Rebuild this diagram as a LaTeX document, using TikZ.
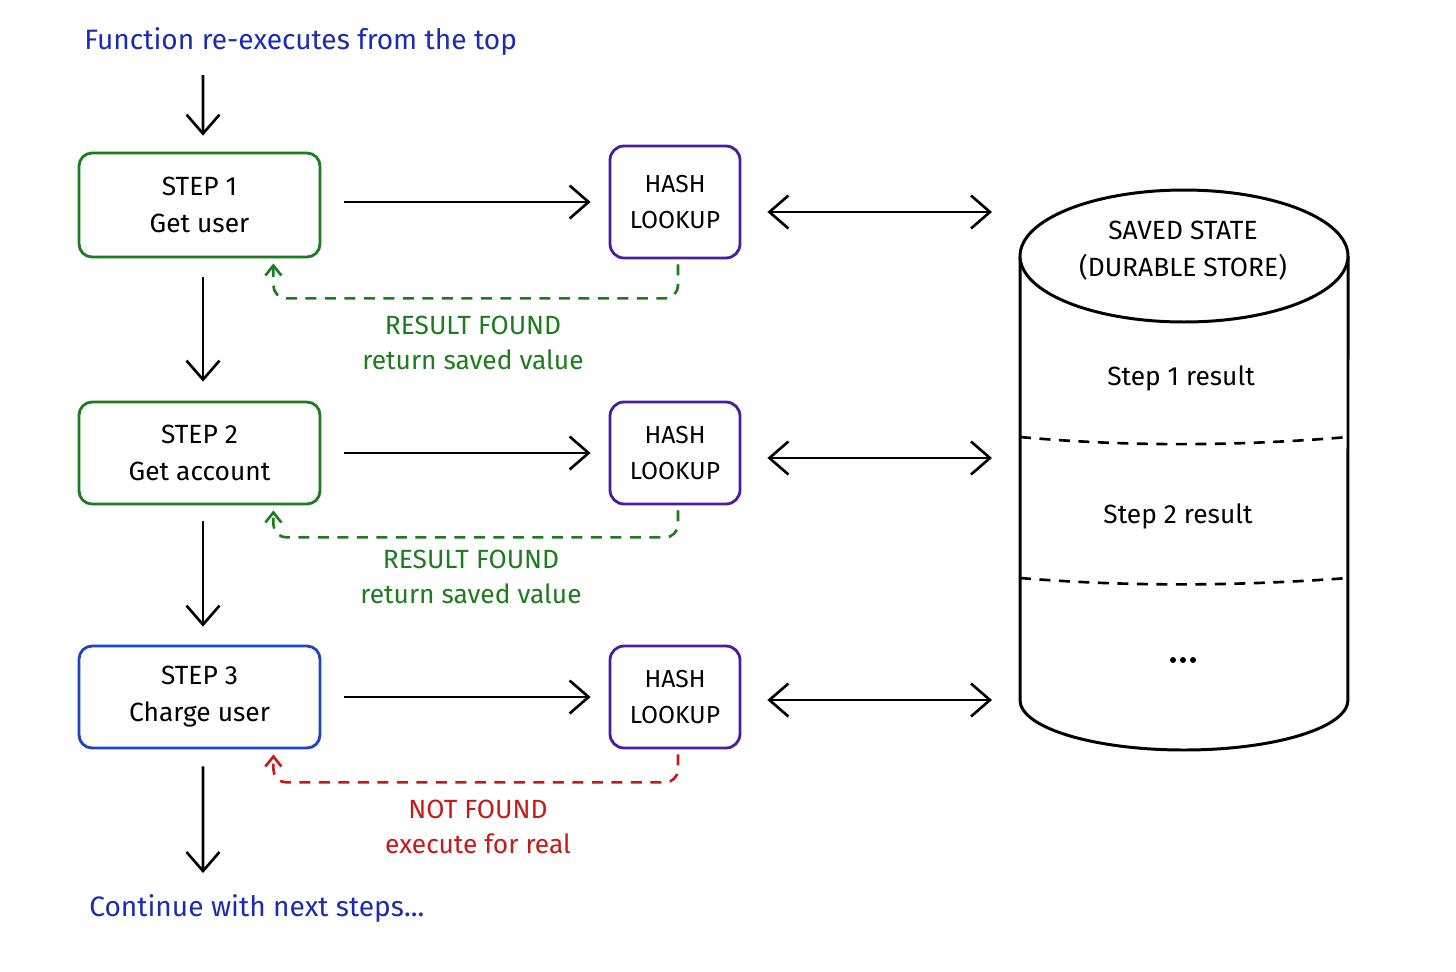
\documentclass[tikz,border=0pt]{standalone}
\usepackage{fontspec}
\setmainfont{Fira Sans}
\usetikzlibrary{arrows.meta}
\definecolor{cgreen}{HTML}{1E7B1E}
\definecolor{cpurple}{HTML}{4A1D9E}
\definecolor{cblue}{HTML}{1C44C4}
\definecolor{ctblue}{HTML}{1A2DB0}
\definecolor{cred}{HTML}{C41A1A}
\begin{document}
\begin{tikzpicture}[x=0.02cm,y=-0.02cm,line width=1.5pt,
  font=\fontsize{15}{21}\selectfont,
  stepbox/.style={draw,rounded corners=0.26cm,minimum width=4.82cm,minimum height=2.08cm,align=center,line width=1.6pt},
  hashbox/.style={draw=cpurple,rounded corners=0.28cm,minimum width=2.6cm,minimum height=2.04cm,align=center,line width=1.6pt,font=\fontsize{14}{20}\selectfont},
  arr/.style={-{Straight Barb[length=0.38cm,width=0.66cm]}},
  darr/.style={{Straight Barb[length=0.38cm,width=0.66cm]}-{Straight Barb[length=0.38cm,width=0.66cm]}},
  backarr/.style={line width=1.5pt,dash pattern=on 0.22cm off 0.17cm,rounded corners=0.26cm,-{Straight Barb[length=0.2cm,width=0.32cm]}},
  lbl/.style={align=center,font=\fontsize{15}{19.5}\selectfont},
  cyltext/.style={align=center}]
\fill[white] (0,0) rectangle (1456,971);
\useasboundingbox (0,0) rectangle (1456,971);

% top / bottom texts
\node[anchor=west,text=ctblue,inner sep=0pt,font=\fontsize{16}{20}\selectfont] (top) at (83,42) {Function re-executes from the top};
\node[anchor=west,text=ctblue,inner sep=0pt,font=\fontsize{16}{20}\selectfont] (bot) at (88,909) {Continue with next steps...};
\coordinate (a0) at (203,75);
\coordinate (a4) at (203,873);

% step boxes
\node[stepbox,draw=cgreen,minimum height=2.08cm] (s1) at (199.5,205) {STEP 1\\Get user};
\node[stepbox,draw=cgreen,minimum height=2.04cm] (s2) at (199.5,453) {STEP 2\\Get account};
\node[stepbox,draw=cblue,minimum height=2.04cm] (s3) at (199.5,697) {STEP 3\\Charge user};

% hash boxes
\node[hashbox,minimum height=2.24cm] (h1) at (675,202) {HASH\\LOOKUP};
\node[hashbox] (h2) at (675,453) {HASH\\LOOKUP};
\node[hashbox] (h3) at (675,697) {HASH\\LOOKUP};

% cylinder
\coordinate (db1) at (1020,212);
\coordinate (db2) at (1020,458);
\coordinate (db3) at (1020,700);
\draw[line width=1.7pt,fill=white] (1020,256) -- (1020,700) arc[start angle=180,end angle=360,x radius=3.28cm,y radius=1.0cm] -- (1348,256);
\draw[line width=1.7pt,fill=white] (1184,256) ellipse[x radius=3.28cm,y radius=1.32cm];
\draw[line width=1.5pt,dash pattern=on 0.22cm off 0.17cm] (1020,437) .. controls (1130,447) and (1240,446) .. (1348,437);
\draw[line width=1.5pt,dash pattern=on 0.22cm off 0.17cm] (1020,578) .. controls (1130,587) and (1240,586) .. (1348,578);
\node[cyltext] (dbt) at (1183,251) {SAVED STATE\\(DURABLE STORE)};
\node (r1) at (1181,378) {Step 1 result};
\node (r2) at (1178,516) {Step 2 result};
\node (r3) at (1183,660) {};
\fill (r3) circle (0.06cm) ([xshift=-0.2cm]r3.center) circle (0.06cm) ([xshift=0.2cm]r3.center) circle (0.06cm);

% vertical flow
\draw[arr] (a0) -- ([xshift=0.07cm,yshift=0.32cm]s1.north);
\draw[arr] ([xshift=0.07cm,yshift=-0.38cm]s1.south) -- ([xshift=0.07cm,yshift=0.38cm]s2.north);
\draw[arr] ([xshift=0.07cm,yshift=-0.32cm]s2.south) -- ([xshift=0.07cm,yshift=0.36cm]s3.north);
\draw[arr] ([xshift=0.07cm,yshift=-0.34cm]s3.south) -- (a4);

% step -> hash
\draw[arr,shorten <=0.46cm,shorten >=0.36cm] (s1.east |- h1) -- (h1.west);
\draw[arr,shorten <=0.46cm,shorten >=0.36cm] (s2.east |- h2) -- (h2.west);
\draw[arr,shorten <=0.46cm,shorten >=0.36cm] (s3.east |- h3) -- (h3.west);

% hash <-> store
\draw[darr,shorten <=0.52cm,shorten >=0.56cm] (h1.east |- db1) -- (db1);
\draw[darr,shorten <=0.52cm,shorten >=0.56cm] (h2.east |- db2) -- (db2);
\draw[darr,shorten <=0.52cm,shorten >=0.56cm] (h3.east |- db3) -- (db3);

% return paths
\draw[backarr,draw=cgreen] ([xshift=0.06cm,yshift=-0.1cm]h1.south) -- ++(0,34) -| ([xshift=-0.96cm,yshift=-0.1cm]s1.south east);
\draw[backarr,draw=cgreen] ([xshift=0.06cm,yshift=-0.1cm]h2.south) -- ++(0,27) -| ([xshift=-0.96cm,yshift=-0.1cm]s2.south east);
\draw[backarr,draw=cred] ([xshift=0.06cm,yshift=-0.1cm]h3.south) -- ++(0,28) -| ([xshift=-0.96cm,yshift=-0.1cm]s3.south east);

\node[lbl,text=cgreen] (l1) at (473,343) {RESULT FOUND\\return saved value};
\node[lbl,text=cgreen] (l2) at (471,577) {RESULT FOUND\\return saved value};
\node[lbl,text=cred] (l3) at (478,827) {NOT FOUND\\execute for real};
\end{tikzpicture}
\end{document}
